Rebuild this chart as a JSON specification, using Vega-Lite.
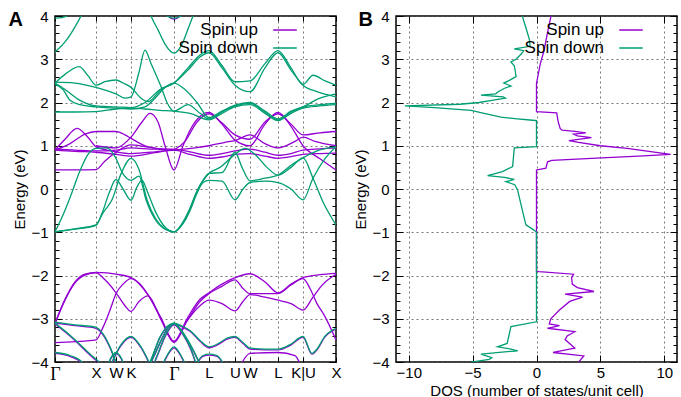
{
"$schema":"https://vega.github.io/schema/vega-lite/v6.json",
"background":"white",
"padding":{"left":7,"top":8,"right":2,"bottom":0},
"spacing":11,
"config":{"font":"Liberation Sans","view":{"stroke":"black","strokeWidth":1.5},
"axis":{"domain":false,"labelFont":"Liberation Sans","titleFont":"Liberation Sans","labelFontSize":15,"titleFontSize":15,"titleFontWeight":"normal","labelColor":"black","titleColor":"black","tickColor":"black","tickWidth":1,"gridColor":"#555","gridDash":[2,3],"gridWidth":0.8,"labelOverlap":false,"labelFlush":false}},
"datasets":{
"bands":[
{"s":"Spin up","b":"u1","k":0,"E":-3.1},{"s":"Spin up","b":"u1","k":10,"E":-2.55},{"s":"Spin up","b":"u1","k":20,"E":-2.15},{"s":"Spin up","b":"u1","k":30,"E":-1.97},{"s":"Spin up","b":"u1","k":41,"E":-1.93},{"s":"Spin up","b":"u1","k":52,"E":-1.94},{"s":"Spin up","b":"u1","k":61,"E":-1.97},{"s":"Spin up","b":"u1","k":76,"E":-2.05},{"s":"Spin up","b":"u1","k":93,"E":-2.45},{"s":"Spin up","b":"u1","k":106,"E":-3.0},{"s":"Spin up","b":"u1","k":119,"E":-3.53},{"s":"Spin up","b":"u1","k":132,"E":-3.0},{"s":"Spin up","b":"u1","k":145,"E":-2.55},{"s":"Spin up","b":"u1","k":154,"E":-2.4},{"s":"Spin up","b":"u1","k":167,"E":-2.2},{"s":"Spin up","b":"u1","k":180,"E":-2.05},{"s":"Spin up","b":"u1","k":195,"E":-1.96},{"s":"Spin up","b":"u1","k":210,"E":-2.15},{"s":"Spin up","b":"u1","k":223,"E":-2.4},{"s":"Spin up","b":"u1","k":236,"E":-2.2},{"s":"Spin up","b":"u1","k":248,"E":-2.05},{"s":"Spin up","b":"u1","k":265,"E":-1.98},{"s":"Spin up","b":"u1","k":281,"E":-1.95},
{"s":"Spin up","b":"u2","k":0,"E":-3.12},{"s":"Spin up","b":"u2","k":10,"E":-2.57},{"s":"Spin up","b":"u2","k":20,"E":-2.17},{"s":"Spin up","b":"u2","k":30,"E":-1.99},{"s":"Spin up","b":"u2","k":41,"E":-1.94},{"s":"Spin up","b":"u2","k":50,"E":-2.1},{"s":"Spin up","b":"u2","k":61,"E":-2.4},{"s":"Spin up","b":"u2","k":70,"E":-2.7},{"s":"Spin up","b":"u2","k":76,"E":-2.83},{"s":"Spin up","b":"u2","k":84,"E":-2.6},{"s":"Spin up","b":"u2","k":93,"E":-2.47},{"s":"Spin up","b":"u2","k":106,"E":-3.02},{"s":"Spin up","b":"u2","k":119,"E":-3.55},{"s":"Spin up","b":"u2","k":132,"E":-3.05},{"s":"Spin up","b":"u2","k":145,"E":-2.6},{"s":"Spin up","b":"u2","k":154,"E":-2.42},{"s":"Spin up","b":"u2","k":167,"E":-2.25},{"s":"Spin up","b":"u2","k":180,"E":-2.1},{"s":"Spin up","b":"u2","k":188,"E":-2.3},{"s":"Spin up","b":"u2","k":195,"E":-2.42},{"s":"Spin up","b":"u2","k":210,"E":-2.42},{"s":"Spin up","b":"u2","k":223,"E":-2.42},{"s":"Spin up","b":"u2","k":236,"E":-2.22},{"s":"Spin up","b":"u2","k":248,"E":-2.07},{"s":"Spin up","b":"u2","k":255,"E":-2.3},{"s":"Spin up","b":"u2","k":262,"E":-2.65},{"s":"Spin up","b":"u2","k":270,"E":-2.95},{"s":"Spin up","b":"u2","k":281,"E":-3.49},
{"s":"Spin up","b":"u3","k":0,"E":-3.55},{"s":"Spin up","b":"u3","k":20,"E":-3.53},{"s":"Spin up","b":"u3","k":41,"E":-3.49},{"s":"Spin up","b":"u3","k":48,"E":-3.2},{"s":"Spin up","b":"u3","k":55,"E":-2.8},{"s":"Spin up","b":"u3","k":61,"E":-2.42},{"s":"Spin up","b":"u3","k":68,"E":-2.2},{"s":"Spin up","b":"u3","k":76,"E":-2.07},{"s":"Spin up","b":"u3","k":93,"E":-2.44},{"s":"Spin up","b":"u3","k":106,"E":-2.98},{"s":"Spin up","b":"u3","k":119,"E":-3.52},{"s":"Spin up","b":"u3","k":132,"E":-3.05},{"s":"Spin up","b":"u3","k":145,"E":-2.7},{"s":"Spin up","b":"u3","k":154,"E":-2.57},{"s":"Spin up","b":"u3","k":167,"E":-2.65},{"s":"Spin up","b":"u3","k":180,"E":-2.82},{"s":"Spin up","b":"u3","k":188,"E":-2.6},{"s":"Spin up","b":"u3","k":195,"E":-2.44},{"s":"Spin up","b":"u3","k":210,"E":-2.5},{"s":"Spin up","b":"u3","k":223,"E":-2.57},{"s":"Spin up","b":"u3","k":236,"E":-2.65},{"s":"Spin up","b":"u3","k":248,"E":-2.8},{"s":"Spin up","b":"u3","k":258,"E":-2.5},{"s":"Spin up","b":"u3","k":268,"E":-2.2},{"s":"Spin up","b":"u3","k":281,"E":-1.97},
{"s":"Spin up","b":"d1","k":0,"E":-3.1},{"s":"Spin up","b":"d1","k":20,"E":-3.16},{"s":"Spin up","b":"d1","k":41,"E":-3.22},{"s":"Spin up","b":"d1","k":48,"E":-3.37},{"s":"Spin up","b":"d1","k":55,"E":-3.67},{"s":"Spin up","b":"d1","k":61,"E":-4.02},{"s":"Spin up","b":"d1","k":66,"E":-4.32},
{"s":"Spin up","b":"d2","k":0,"E":-3.12},{"s":"Spin up","b":"d2","k":15,"E":-3.4},{"s":"Spin up","b":"d2","k":38,"E":-3.9},{"s":"Spin up","b":"d2","k":45,"E":-4.04},{"s":"Spin up","b":"d2","k":52,"E":-4.27},
{"s":"Spin up","b":"d3","k":0,"E":-3.8},{"s":"Spin up","b":"d3","k":15,"E":-3.87},{"s":"Spin up","b":"d3","k":28,"E":-4.04},{"s":"Spin up","b":"d3","k":35,"E":-4.27},
{"s":"Spin up","b":"d4","k":56,"E":-4.07},{"s":"Spin up","b":"d4","k":66,"E":-3.62},{"s":"Spin up","b":"d4","k":76,"E":-3.43},{"s":"Spin up","b":"d4","k":86,"E":-3.67},{"s":"Spin up","b":"d4","k":95,"E":-4.07},
{"s":"Spin up","b":"d5","k":50,"E":-4.27},{"s":"Spin up","b":"d5","k":56,"E":-3.92},{"s":"Spin up","b":"d5","k":61,"E":-3.8},{"s":"Spin up","b":"d5","k":66,"E":-3.92},{"s":"Spin up","b":"d5","k":72,"E":-4.27},
{"s":"Spin up","b":"d6a","k":88,"E":-4.32},{"s":"Spin up","b":"d6a","k":95,"E":-4.02},{"s":"Spin up","b":"d6a","k":105,"E":-3.44},{"s":"Spin up","b":"d6a","k":112,"E":-3.2},{"s":"Spin up","b":"d6a","k":119,"E":-3.12},{"s":"Spin up","b":"d6a","k":127,"E":-3.19},{"s":"Spin up","b":"d6a","k":135,"E":-3.29},{"s":"Spin up","b":"d6a","k":145,"E":-3.52},{"s":"Spin up","b":"d6a","k":154,"E":-3.67},{"s":"Spin up","b":"d6a","k":165,"E":-3.57},{"s":"Spin up","b":"d6a","k":172,"E":-3.47},{"s":"Spin up","b":"d6a","k":180,"E":-3.43},{"s":"Spin up","b":"d6a","k":188,"E":-3.57},{"s":"Spin up","b":"d6a","k":195,"E":-3.7},{"s":"Spin up","b":"d6a","k":210,"E":-3.72},{"s":"Spin up","b":"d6a","k":223,"E":-3.72},{"s":"Spin up","b":"d6a","k":235,"E":-3.62},{"s":"Spin up","b":"d6a","k":248,"E":-3.43},{"s":"Spin up","b":"d6a","k":257,"E":-3.82},{"s":"Spin up","b":"d6a","k":262,"E":-3.72},{"s":"Spin up","b":"d6a","k":270,"E":-3.42},{"s":"Spin up","b":"d6a","k":281,"E":-3.24},
{"s":"Spin up","b":"d6b","k":92,"E":-4.22},{"s":"Spin up","b":"d6b","k":98,"E":-3.92},{"s":"Spin up","b":"d6b","k":106,"E":-3.52},{"s":"Spin up","b":"d6b","k":113,"E":-3.22},{"s":"Spin up","b":"d6b","k":119,"E":-3.12},{"s":"Spin up","b":"d6b","k":126,"E":-3.27},{"s":"Spin up","b":"d6b","k":133,"E":-3.52},{"s":"Spin up","b":"d6b","k":140,"E":-3.82},{"s":"Spin up","b":"d6b","k":146,"E":-4.12},
{"s":"Spin up","b":"d6c","k":96,"E":-4.22},{"s":"Spin up","b":"d6c","k":103,"E":-3.82},{"s":"Spin up","b":"d6c","k":110,"E":-3.42},{"s":"Spin up","b":"d6c","k":119,"E":-3.14},{"s":"Spin up","b":"d6c","k":128,"E":-3.37},{"s":"Spin up","b":"d6c","k":136,"E":-3.72},{"s":"Spin up","b":"d6c","k":142,"E":-4.12},
{"s":"Spin up","b":"d7","k":105,"E":-4.22},{"s":"Spin up","b":"d7","k":112,"E":-3.87},{"s":"Spin up","b":"d7","k":119,"E":-3.67},{"s":"Spin up","b":"d7","k":126,"E":-3.87},{"s":"Spin up","b":"d7","k":133,"E":-4.22},
{"s":"Spin up","b":"d9","k":140,"E":-4.12},{"s":"Spin up","b":"d9","k":148,"E":-3.87},{"s":"Spin up","b":"d9","k":154,"E":-3.84},{"s":"Spin up","b":"d9","k":162,"E":-3.87},{"s":"Spin up","b":"d9","k":170,"E":-4.12},
{"s":"Spin up","b":"d8","k":185,"E":-4.1},{"s":"Spin up","b":"d8","k":195,"E":-3.8},{"s":"Spin up","b":"d8","k":223,"E":-3.78},{"s":"Spin up","b":"d8","k":240,"E":-3.85},{"s":"Spin up","b":"d8","k":246,"E":-4.1},
{"s":"Spin up","b":"pa","k":0,"E":0.9},{"s":"Spin up","b":"pa","k":20,"E":0.87},{"s":"Spin up","b":"pa","k":41,"E":0.85},{"s":"Spin up","b":"pa","k":61,"E":0.8},{"s":"Spin up","b":"pa","k":76,"E":0.76},{"s":"Spin up","b":"pa","k":100,"E":0.84},{"s":"Spin up","b":"pa","k":119,"E":0.9},{"s":"Spin up","b":"pa","k":135,"E":0.8},{"s":"Spin up","b":"pa","k":154,"E":0.71},{"s":"Spin up","b":"pa","k":167,"E":0.74},{"s":"Spin up","b":"pa","k":180,"E":0.8},{"s":"Spin up","b":"pa","k":195,"E":0.82},{"s":"Spin up","b":"pa","k":210,"E":0.76},{"s":"Spin up","b":"pa","k":223,"E":0.71},{"s":"Spin up","b":"pa","k":236,"E":0.75},{"s":"Spin up","b":"pa","k":248,"E":0.8},{"s":"Spin up","b":"pa","k":265,"E":0.82},{"s":"Spin up","b":"pa","k":281,"E":0.83},
{"s":"Spin up","b":"pb","k":0,"E":0.92},{"s":"Spin up","b":"pb","k":20,"E":0.9},{"s":"Spin up","b":"pb","k":41,"E":0.88},{"s":"Spin up","b":"pb","k":61,"E":0.9},{"s":"Spin up","b":"pb","k":76,"E":0.95},{"s":"Spin up","b":"pb","k":100,"E":0.92},{"s":"Spin up","b":"pb","k":119,"E":0.92},{"s":"Spin up","b":"pb","k":135,"E":0.86},{"s":"Spin up","b":"pb","k":154,"E":0.78},{"s":"Spin up","b":"pb","k":167,"E":0.82},{"s":"Spin up","b":"pb","k":180,"E":0.88},{"s":"Spin up","b":"pb","k":195,"E":0.92},{"s":"Spin up","b":"pb","k":210,"E":0.85},{"s":"Spin up","b":"pb","k":223,"E":0.78},{"s":"Spin up","b":"pb","k":236,"E":0.82},{"s":"Spin up","b":"pb","k":248,"E":0.9},{"s":"Spin up","b":"pb","k":265,"E":0.93},{"s":"Spin up","b":"pb","k":281,"E":0.95},
{"s":"Spin up","b":"pc","k":0,"E":0.44},{"s":"Spin up","b":"pc","k":20,"E":0.44},{"s":"Spin up","b":"pc","k":41,"E":0.45},{"s":"Spin up","b":"pc","k":50,"E":0.65},{"s":"Spin up","b":"pc","k":61,"E":0.85},{"s":"Spin up","b":"pc","k":76,"E":1.02},{"s":"Spin up","b":"pc","k":90,"E":0.98},{"s":"Spin up","b":"pc","k":105,"E":0.93},{"s":"Spin up","b":"pc","k":119,"E":0.9},
{"s":"Spin up","b":"pd","k":0,"E":0.9},{"s":"Spin up","b":"pd","k":10,"E":1.15},{"s":"Spin up","b":"pd","k":22,"E":1.4},{"s":"Spin up","b":"pd","k":32,"E":1.22},{"s":"Spin up","b":"pd","k":41,"E":0.98},{"s":"Spin up","b":"pd","k":52,"E":0.9},{"s":"Spin up","b":"pd","k":61,"E":0.86},{"s":"Spin up","b":"pd","k":76,"E":0.82},{"s":"Spin up","b":"pd","k":100,"E":0.86},{"s":"Spin up","b":"pd","k":119,"E":0.91},
{"s":"Spin up","b":"pe","k":0,"E":0.9},{"s":"Spin up","b":"pe","k":15,"E":1.05},{"s":"Spin up","b":"pe","k":30,"E":1.27},{"s":"Spin up","b":"pe","k":41,"E":1.33},{"s":"Spin up","b":"pe","k":61,"E":1.33},{"s":"Spin up","b":"pe","k":70,"E":1.25},{"s":"Spin up","b":"pe","k":76,"E":1.17},{"s":"Spin up","b":"pe","k":90,"E":1.0},{"s":"Spin up","b":"pe","k":105,"E":0.92},{"s":"Spin up","b":"pe","k":119,"E":0.9},
{"s":"Spin up","b":"pf","k":41,"E":1.0},{"s":"Spin up","b":"pf","k":61,"E":0.95},{"s":"Spin up","b":"pf","k":76,"E":1.2},{"s":"Spin up","b":"pf","k":87,"E":1.55},{"s":"Spin up","b":"pf","k":95,"E":1.75},{"s":"Spin up","b":"pf","k":103,"E":1.55},{"s":"Spin up","b":"pf","k":110,"E":1.0},{"s":"Spin up","b":"pf","k":119,"E":0.44},{"s":"Spin up","b":"pf","k":128,"E":1.0},{"s":"Spin up","b":"pf","k":140,"E":1.55},{"s":"Spin up","b":"pf","k":154,"E":1.77},{"s":"Spin up","b":"pf","k":167,"E":1.5},{"s":"Spin up","b":"pf","k":180,"E":1.13},{"s":"Spin up","b":"pf","k":195,"E":1.0},{"s":"Spin up","b":"pf","k":210,"E":1.5},{"s":"Spin up","b":"pf","k":223,"E":1.77},{"s":"Spin up","b":"pf","k":236,"E":1.45},{"s":"Spin up","b":"pf","k":248,"E":1.0},{"s":"Spin up","b":"pf","k":265,"E":0.7},{"s":"Spin up","b":"pf","k":281,"E":0.44},
{"s":"Spin up","b":"pg","k":119,"E":0.9},{"s":"Spin up","b":"pg","k":130,"E":1.1},{"s":"Spin up","b":"pg","k":142,"E":1.55},{"s":"Spin up","b":"pg","k":154,"E":1.74},{"s":"Spin up","b":"pg","k":166,"E":1.55},{"s":"Spin up","b":"pg","k":180,"E":1.25},{"s":"Spin up","b":"pg","k":195,"E":1.15},{"s":"Spin up","b":"pg","k":210,"E":1.55},{"s":"Spin up","b":"pg","k":223,"E":1.74},{"s":"Spin up","b":"pg","k":236,"E":1.5},{"s":"Spin up","b":"pg","k":248,"E":1.25},{"s":"Spin up","b":"pg","k":265,"E":1.3},{"s":"Spin up","b":"pg","k":281,"E":1.33},
{"s":"Spin up","b":"ph","k":119,"E":0.9},{"s":"Spin up","b":"ph","k":140,"E":0.95},{"s":"Spin up","b":"ph","k":154,"E":1.0},{"s":"Spin up","b":"ph","k":170,"E":1.08},{"s":"Spin up","b":"ph","k":180,"E":1.12},{"s":"Spin up","b":"ph","k":195,"E":1.25},{"s":"Spin up","b":"ph","k":210,"E":1.05},{"s":"Spin up","b":"ph","k":223,"E":0.95},{"s":"Spin up","b":"ph","k":240,"E":1.1},{"s":"Spin up","b":"ph","k":248,"E":1.2},{"s":"Spin up","b":"ph","k":260,"E":1.1},{"s":"Spin up","b":"ph","k":281,"E":1.0},
{"s":"Spin up","b":"pt","k":108,"E":4.2},{"s":"Spin up","b":"pt","k":113,"E":4.0},{"s":"Spin up","b":"pt","k":119,"E":3.93},{"s":"Spin up","b":"pt","k":125,"E":4.0},{"s":"Spin up","b":"pt","k":130,"E":4.2},
{"s":"Spin down","b":"d1","k":0,"E":-3.08},{"s":"Spin down","b":"d1","k":20,"E":-3.14},{"s":"Spin down","b":"d1","k":41,"E":-3.2},{"s":"Spin down","b":"d1","k":48,"E":-3.35},{"s":"Spin down","b":"d1","k":55,"E":-3.65},{"s":"Spin down","b":"d1","k":61,"E":-4.0},{"s":"Spin down","b":"d1","k":66,"E":-4.3},
{"s":"Spin down","b":"d2","k":0,"E":-3.1},{"s":"Spin down","b":"d2","k":15,"E":-3.38},{"s":"Spin down","b":"d2","k":38,"E":-3.88},{"s":"Spin down","b":"d2","k":45,"E":-4.02},{"s":"Spin down","b":"d2","k":52,"E":-4.25},
{"s":"Spin down","b":"d3","k":0,"E":-3.78},{"s":"Spin down","b":"d3","k":15,"E":-3.85},{"s":"Spin down","b":"d3","k":28,"E":-4.02},{"s":"Spin down","b":"d3","k":35,"E":-4.25},
{"s":"Spin down","b":"d4","k":56,"E":-4.05},{"s":"Spin down","b":"d4","k":66,"E":-3.6},{"s":"Spin down","b":"d4","k":76,"E":-3.41},{"s":"Spin down","b":"d4","k":86,"E":-3.65},{"s":"Spin down","b":"d4","k":95,"E":-4.05},
{"s":"Spin down","b":"d5","k":50,"E":-4.25},{"s":"Spin down","b":"d5","k":56,"E":-3.9},{"s":"Spin down","b":"d5","k":61,"E":-3.78},{"s":"Spin down","b":"d5","k":66,"E":-3.9},{"s":"Spin down","b":"d5","k":72,"E":-4.25},
{"s":"Spin down","b":"d6a","k":88,"E":-4.3},{"s":"Spin down","b":"d6a","k":95,"E":-4.0},{"s":"Spin down","b":"d6a","k":105,"E":-3.42},{"s":"Spin down","b":"d6a","k":112,"E":-3.18},{"s":"Spin down","b":"d6a","k":119,"E":-3.1},{"s":"Spin down","b":"d6a","k":127,"E":-3.17},{"s":"Spin down","b":"d6a","k":135,"E":-3.27},{"s":"Spin down","b":"d6a","k":145,"E":-3.5},{"s":"Spin down","b":"d6a","k":154,"E":-3.65},{"s":"Spin down","b":"d6a","k":165,"E":-3.55},{"s":"Spin down","b":"d6a","k":172,"E":-3.45},{"s":"Spin down","b":"d6a","k":180,"E":-3.41},{"s":"Spin down","b":"d6a","k":188,"E":-3.55},{"s":"Spin down","b":"d6a","k":195,"E":-3.68},{"s":"Spin down","b":"d6a","k":210,"E":-3.7},{"s":"Spin down","b":"d6a","k":223,"E":-3.7},{"s":"Spin down","b":"d6a","k":235,"E":-3.6},{"s":"Spin down","b":"d6a","k":248,"E":-3.41},{"s":"Spin down","b":"d6a","k":257,"E":-3.8},{"s":"Spin down","b":"d6a","k":262,"E":-3.7},{"s":"Spin down","b":"d6a","k":270,"E":-3.4},{"s":"Spin down","b":"d6a","k":281,"E":-3.22},
{"s":"Spin down","b":"d6b","k":92,"E":-4.2},{"s":"Spin down","b":"d6b","k":98,"E":-3.9},{"s":"Spin down","b":"d6b","k":106,"E":-3.5},{"s":"Spin down","b":"d6b","k":113,"E":-3.2},{"s":"Spin down","b":"d6b","k":119,"E":-3.1},{"s":"Spin down","b":"d6b","k":126,"E":-3.25},{"s":"Spin down","b":"d6b","k":133,"E":-3.5},{"s":"Spin down","b":"d6b","k":140,"E":-3.8},{"s":"Spin down","b":"d6b","k":146,"E":-4.1},
{"s":"Spin down","b":"d6c","k":96,"E":-4.2},{"s":"Spin down","b":"d6c","k":103,"E":-3.8},{"s":"Spin down","b":"d6c","k":110,"E":-3.4},{"s":"Spin down","b":"d6c","k":119,"E":-3.12},{"s":"Spin down","b":"d6c","k":128,"E":-3.35},{"s":"Spin down","b":"d6c","k":136,"E":-3.7},{"s":"Spin down","b":"d6c","k":142,"E":-4.1},
{"s":"Spin down","b":"d7","k":105,"E":-4.2},{"s":"Spin down","b":"d7","k":112,"E":-3.85},{"s":"Spin down","b":"d7","k":119,"E":-3.65},{"s":"Spin down","b":"d7","k":126,"E":-3.85},{"s":"Spin down","b":"d7","k":133,"E":-4.2},
{"s":"Spin down","b":"d9","k":140,"E":-4.1},{"s":"Spin down","b":"d9","k":148,"E":-3.85},{"s":"Spin down","b":"d9","k":154,"E":-3.82},{"s":"Spin down","b":"d9","k":162,"E":-3.85},{"s":"Spin down","b":"d9","k":170,"E":-4.1},
{"s":"Spin down","b":"gA","k":0,"E":-0.99},{"s":"Spin down","b":"gA","k":20,"E":-0.93},{"s":"Spin down","b":"gA","k":41,"E":-0.84},{"s":"Spin down","b":"gA","k":48,"E":-0.5},{"s":"Spin down","b":"gA","k":54,"E":-0.1},{"s":"Spin down","b":"gA","k":61,"E":0.22},{"s":"Spin down","b":"gA","k":68,"E":0.0},{"s":"Spin down","b":"gA","k":76,"E":-0.26},{"s":"Spin down","b":"gA","k":82,"E":0.05},{"s":"Spin down","b":"gA","k":87,"E":0.2},{"s":"Spin down","b":"gA","k":93,"E":-0.1},{"s":"Spin down","b":"gA","k":100,"E":-0.5},{"s":"Spin down","b":"gA","k":110,"E":-0.88},{"s":"Spin down","b":"gA","k":119,"E":-0.99},{"s":"Spin down","b":"gA","k":128,"E":-0.8},{"s":"Spin down","b":"gA","k":135,"E":-0.5},{"s":"Spin down","b":"gA","k":142,"E":-0.1},{"s":"Spin down","b":"gA","k":148,"E":0.15},{"s":"Spin down","b":"gA","k":154,"E":0.2},{"s":"Spin down","b":"gA","k":167,"E":0.18},{"s":"Spin down","b":"gA","k":180,"E":-0.25},{"s":"Spin down","b":"gA","k":188,"E":0.0},{"s":"Spin down","b":"gA","k":195,"E":0.15},{"s":"Spin down","b":"gA","k":210,"E":0.18},{"s":"Spin down","b":"gA","k":223,"E":0.15},{"s":"Spin down","b":"gA","k":236,"E":0.0},{"s":"Spin down","b":"gA","k":248,"E":-0.25},{"s":"Spin down","b":"gA","k":258,"E":0.25},{"s":"Spin down","b":"gA","k":270,"E":0.7},{"s":"Spin down","b":"gA","k":281,"E":0.98},
{"s":"Spin down","b":"gB","k":0,"E":-0.99},{"s":"Spin down","b":"gB","k":8,"E":-0.6},{"s":"Spin down","b":"gB","k":15,"E":-0.2},{"s":"Spin down","b":"gB","k":25,"E":0.42},{"s":"Spin down","b":"gB","k":33,"E":0.8},{"s":"Spin down","b":"gB","k":41,"E":0.94},{"s":"Spin down","b":"gB","k":52,"E":0.95},{"s":"Spin down","b":"gB","k":60,"E":0.75},{"s":"Spin down","b":"gB","k":68,"E":0.35},{"s":"Spin down","b":"gB","k":76,"E":0.2},{"s":"Spin down","b":"gB","k":84,"E":0.3},{"s":"Spin down","b":"gB","k":91,"E":-0.25},{"s":"Spin down","b":"gB","k":100,"E":-0.7},{"s":"Spin down","b":"gB","k":110,"E":-0.93},{"s":"Spin down","b":"gB","k":119,"E":-0.99},{"s":"Spin down","b":"gB","k":128,"E":-0.78},{"s":"Spin down","b":"gB","k":135,"E":-0.45},{"s":"Spin down","b":"gB","k":143,"E":0.0},{"s":"Spin down","b":"gB","k":154,"E":0.36},{"s":"Spin down","b":"gB","k":165,"E":0.5},{"s":"Spin down","b":"gB","k":180,"E":0.8},{"s":"Spin down","b":"gB","k":190,"E":0.94},{"s":"Spin down","b":"gB","k":200,"E":0.8},{"s":"Spin down","b":"gB","k":212,"E":0.5},{"s":"Spin down","b":"gB","k":223,"E":0.32},{"s":"Spin down","b":"gB","k":236,"E":0.5},{"s":"Spin down","b":"gB","k":248,"E":0.72},{"s":"Spin down","b":"gB","k":258,"E":0.25},{"s":"Spin down","b":"gB","k":268,"E":-0.3},{"s":"Spin down","b":"gB","k":281,"E":-0.83},
{"s":"Spin down","b":"gC","k":0,"E":-0.99},{"s":"Spin down","b":"gC","k":20,"E":-0.92},{"s":"Spin down","b":"gC","k":41,"E":-0.83},{"s":"Spin down","b":"gC","k":48,"E":-0.55},{"s":"Spin down","b":"gC","k":57,"E":-0.25},{"s":"Spin down","b":"gC","k":66,"E":0.35},{"s":"Spin down","b":"gC","k":76,"E":0.71},{"s":"Spin down","b":"gC","k":84,"E":0.45},{"s":"Spin down","b":"gC","k":92,"E":-0.25},{"s":"Spin down","b":"gC","k":101,"E":-0.7},{"s":"Spin down","b":"gC","k":110,"E":-0.92},{"s":"Spin down","b":"gC","k":119,"E":-0.99},{"s":"Spin down","b":"gC","k":127,"E":-0.8},{"s":"Spin down","b":"gC","k":134,"E":-0.5},{"s":"Spin down","b":"gC","k":141,"E":-0.1},{"s":"Spin down","b":"gC","k":148,"E":0.2},{"s":"Spin down","b":"gC","k":154,"E":0.36},{"s":"Spin down","b":"gC","k":167,"E":0.38},{"s":"Spin down","b":"gC","k":180,"E":0.85},{"s":"Spin down","b":"gC","k":187,"E":0.5},{"s":"Spin down","b":"gC","k":195,"E":0.19},{"s":"Spin down","b":"gC","k":210,"E":0.25},{"s":"Spin down","b":"gC","k":223,"E":0.32},{"s":"Spin down","b":"gC","k":236,"E":0.55},{"s":"Spin down","b":"gC","k":248,"E":0.72},{"s":"Spin down","b":"gC","k":262,"E":0.88},{"s":"Spin down","b":"gC","k":281,"E":0.98},
{"s":"Spin down","b":"g1","k":0,"E":2.45},{"s":"Spin down","b":"g1","k":10,"E":2.65},{"s":"Spin down","b":"g1","k":24,"E":2.83},{"s":"Spin down","b":"g1","k":33,"E":2.62},{"s":"Spin down","b":"g1","k":41,"E":2.4},{"s":"Spin down","b":"g1","k":50,"E":2.48},{"s":"Spin down","b":"g1","k":61,"E":2.52},{"s":"Spin down","b":"g1","k":68,"E":2.45},{"s":"Spin down","b":"g1","k":76,"E":2.35},{"s":"Spin down","b":"g1","k":86,"E":2.1},{"s":"Spin down","b":"g1","k":93,"E":2.02},{"s":"Spin down","b":"g1","k":106,"E":2.3},{"s":"Spin down","b":"g1","k":119,"E":2.45},{"s":"Spin down","b":"g1","k":133,"E":2.8},{"s":"Spin down","b":"g1","k":145,"E":3.1},{"s":"Spin down","b":"g1","k":154,"E":3.2},{"s":"Spin down","b":"g1","k":167,"E":2.85},{"s":"Spin down","b":"g1","k":180,"E":2.48},{"s":"Spin down","b":"g1","k":195,"E":2.5},{"s":"Spin down","b":"g1","k":210,"E":2.9},{"s":"Spin down","b":"g1","k":223,"E":3.2},{"s":"Spin down","b":"g1","k":236,"E":2.8},{"s":"Spin down","b":"g1","k":248,"E":2.42},{"s":"Spin down","b":"g1","k":258,"E":2.63},{"s":"Spin down","b":"g1","k":270,"E":2.5},{"s":"Spin down","b":"g1","k":281,"E":2.4},
{"s":"Spin down","b":"g2","k":0,"E":2.45},{"s":"Spin down","b":"g2","k":10,"E":2.3},{"s":"Spin down","b":"g2","k":25,"E":2.05},{"s":"Spin down","b":"g2","k":41,"E":1.92},{"s":"Spin down","b":"g2","k":61,"E":1.9},{"s":"Spin down","b":"g2","k":76,"E":1.88},{"s":"Spin down","b":"g2","k":90,"E":2.0},{"s":"Spin down","b":"g2","k":105,"E":2.3},{"s":"Spin down","b":"g2","k":119,"E":2.45},{"s":"Spin down","b":"g2","k":133,"E":2.75},{"s":"Spin down","b":"g2","k":145,"E":3.05},{"s":"Spin down","b":"g2","k":154,"E":3.15},{"s":"Spin down","b":"g2","k":167,"E":2.8},{"s":"Spin down","b":"g2","k":180,"E":2.4},{"s":"Spin down","b":"g2","k":195,"E":2.25},{"s":"Spin down","b":"g2","k":210,"E":2.8},{"s":"Spin down","b":"g2","k":223,"E":3.15},{"s":"Spin down","b":"g2","k":236,"E":2.75},{"s":"Spin down","b":"g2","k":248,"E":2.4},{"s":"Spin down","b":"g2","k":262,"E":2.25},{"s":"Spin down","b":"g2","k":281,"E":2.13},
{"s":"Spin down","b":"g3","k":0,"E":2.42},{"s":"Spin down","b":"g3","k":8,"E":2.3},{"s":"Spin down","b":"g3","k":15,"E":2.05},{"s":"Spin down","b":"g3","k":25,"E":1.95},{"s":"Spin down","b":"g3","k":41,"E":1.9},{"s":"Spin down","b":"g3","k":61,"E":1.87},{"s":"Spin down","b":"g3","k":76,"E":1.85},{"s":"Spin down","b":"g3","k":90,"E":1.9},{"s":"Spin down","b":"g3","k":100,"E":2.1},{"s":"Spin down","b":"g3","k":110,"E":2.35},{"s":"Spin down","b":"g3","k":119,"E":2.45},{"s":"Spin down","b":"g3","k":130,"E":2.3},{"s":"Spin down","b":"g3","k":142,"E":2.0},{"s":"Spin down","b":"g3","k":154,"E":1.65},{"s":"Spin down","b":"g3","k":167,"E":1.8},{"s":"Spin down","b":"g3","k":180,"E":1.94},{"s":"Spin down","b":"g3","k":195,"E":2.0},{"s":"Spin down","b":"g3","k":210,"E":1.8},{"s":"Spin down","b":"g3","k":223,"E":1.62},{"s":"Spin down","b":"g3","k":236,"E":1.8},{"s":"Spin down","b":"g3","k":248,"E":1.9},{"s":"Spin down","b":"g3","k":265,"E":1.95},{"s":"Spin down","b":"g3","k":281,"E":1.98},
{"s":"Spin down","b":"g4","k":0,"E":1.78},{"s":"Spin down","b":"g4","k":20,"E":1.78},{"s":"Spin down","b":"g4","k":41,"E":1.79},{"s":"Spin down","b":"g4","k":61,"E":1.85},{"s":"Spin down","b":"g4","k":76,"E":1.87},{"s":"Spin down","b":"g4","k":90,"E":1.85},{"s":"Spin down","b":"g4","k":105,"E":1.82},{"s":"Spin down","b":"g4","k":119,"E":1.8},{"s":"Spin down","b":"g4","k":135,"E":1.75},{"s":"Spin down","b":"g4","k":154,"E":1.6},{"s":"Spin down","b":"g4","k":167,"E":1.75},{"s":"Spin down","b":"g4","k":180,"E":1.9},{"s":"Spin down","b":"g4","k":195,"E":1.95},{"s":"Spin down","b":"g4","k":210,"E":1.75},{"s":"Spin down","b":"g4","k":223,"E":1.58},{"s":"Spin down","b":"g4","k":236,"E":1.75},{"s":"Spin down","b":"g4","k":248,"E":1.87},{"s":"Spin down","b":"g4","k":265,"E":1.92},{"s":"Spin down","b":"g4","k":281,"E":1.95},
{"s":"Spin down","b":"g5","k":0,"E":2.47},{"s":"Spin down","b":"g5","k":20,"E":2.45},{"s":"Spin down","b":"g5","k":41,"E":2.35},{"s":"Spin down","b":"g5","k":55,"E":2.25},{"s":"Spin down","b":"g5","k":61,"E":2.2},{"s":"Spin down","b":"g5","k":70,"E":2.1},{"s":"Spin down","b":"g5","k":76,"E":2.13},{"s":"Spin down","b":"g5","k":84,"E":2.7},{"s":"Spin down","b":"g5","k":90,"E":3.21},{"s":"Spin down","b":"g5","k":96,"E":2.9},{"s":"Spin down","b":"g5","k":106,"E":2.37},{"s":"Spin down","b":"g5","k":112,"E":2.0},{"s":"Spin down","b":"g5","k":119,"E":1.8},{"s":"Spin down","b":"g5","k":133,"E":1.95},{"s":"Spin down","b":"g5","k":145,"E":1.75},{"s":"Spin down","b":"g5","k":154,"E":1.62},{"s":"Spin down","b":"g5","k":167,"E":1.78},{"s":"Spin down","b":"g5","k":180,"E":1.92},{"s":"Spin down","b":"g5","k":195,"E":1.98},{"s":"Spin down","b":"g5","k":210,"E":1.78},{"s":"Spin down","b":"g5","k":223,"E":1.6},{"s":"Spin down","b":"g5","k":236,"E":1.78},{"s":"Spin down","b":"g5","k":248,"E":1.9},{"s":"Spin down","b":"g5","k":265,"E":2.1},{"s":"Spin down","b":"g5","k":281,"E":2.2},
{"s":"Spin down","b":"g6","k":0,"E":3.17},{"s":"Spin down","b":"g6","k":10,"E":3.4},{"s":"Spin down","b":"g6","k":20,"E":3.75},{"s":"Spin down","b":"g6","k":27,"E":4.05},{"s":"Spin down","b":"g6","k":33,"E":4.4},
{"s":"Spin down","b":"g7","k":0,"E":3.95},{"s":"Spin down","b":"g7","k":8,"E":3.97},{"s":"Spin down","b":"g7","k":16,"E":4.05},{"s":"Spin down","b":"g7","k":22,"E":4.3},
{"s":"Spin down","b":"g8","k":90,"E":4.4},{"s":"Spin down","b":"g8","k":97,"E":3.95},{"s":"Spin down","b":"g8","k":103,"E":3.68},{"s":"Spin down","b":"g8","k":110,"E":3.35},{"s":"Spin down","b":"g8","k":119,"E":3.14},{"s":"Spin down","b":"g8","k":127,"E":3.35},{"s":"Spin down","b":"g8","k":133,"E":3.7},{"s":"Spin down","b":"g8","k":138,"E":4.0},{"s":"Spin down","b":"g8","k":145,"E":4.4},
{"s":"Spin down","b":"g9","k":105,"E":4.2},{"s":"Spin down","b":"g9","k":112,"E":4.0},{"s":"Spin down","b":"g9","k":119,"E":3.95},{"s":"Spin down","b":"g9","k":126,"E":4.0},{"s":"Spin down","b":"g9","k":133,"E":4.2}
],
"dos":[
{"s":"Spin up","E":4.1,"v":1.2},{"s":"Spin up","E":3.98,"v":1.12},{"s":"Spin up","E":3.6,"v":0.85},{"s":"Spin up","E":3.21,"v":0.6},{"s":"Spin up","E":2.9,"v":0.3},{"s":"Spin up","E":2.6,"v":0.1},{"s":"Spin up","E":2.48,"v":0.03},{"s":"Spin up","E":2.45,"v":0},{"s":"Spin up","E":1.79,"v":0},{"s":"Spin up","E":1.76,"v":1.58},{"s":"Spin up","E":1.55,"v":1.7},{"s":"Spin up","E":1.4,"v":1.85},{"s":"Spin up","E":1.36,"v":2.0},{"s":"Spin up","E":1.33,"v":3.0},{"s":"Spin up","E":1.3,"v":3.86},{"s":"Spin up","E":1.27,"v":2.9},{"s":"Spin up","E":1.23,"v":3.2},{"s":"Spin up","E":1.19,"v":4.3},{"s":"Spin up","E":1.12,"v":2.54},{"s":"Spin up","E":1.08,"v":3.3},{"s":"Spin up","E":1.0,"v":5.0},{"s":"Spin up","E":0.94,"v":7.1},{"s":"Spin up","E":0.8,"v":10.5},{"s":"Spin up","E":0.76,"v":8.0},{"s":"Spin up","E":0.72,"v":5.1},{"s":"Spin up","E":0.66,"v":1.2},{"s":"Spin up","E":0.63,"v":0.86},{"s":"Spin up","E":0.48,"v":0.74},{"s":"Spin up","E":0.44,"v":0},{"s":"Spin up","E":-1.9,"v":0},{"s":"Spin up","E":-1.91,"v":0.2},{"s":"Spin up","E":-1.97,"v":2.9},{"s":"Spin up","E":-2.05,"v":2.75},{"s":"Spin up","E":-2.2,"v":2.8},{"s":"Spin up","E":-2.28,"v":3.2},{"s":"Spin up","E":-2.37,"v":4.5},{"s":"Spin up","E":-2.43,"v":2.24},{"s":"Spin up","E":-2.5,"v":3.6},{"s":"Spin up","E":-2.6,"v":2.6},{"s":"Spin up","E":-2.8,"v":1.8},{"s":"Spin up","E":-3.0,"v":1.12},{"s":"Spin up","E":-3.12,"v":1.0},{"s":"Spin up","E":-3.16,"v":1.8},{"s":"Spin up","E":-3.22,"v":0.86},{"s":"Spin up","E":-3.3,"v":3.0},{"s":"Spin up","E":-3.4,"v":2.4},{"s":"Spin up","E":-3.48,"v":2.24},{"s":"Spin up","E":-3.6,"v":2.7},{"s":"Spin up","E":-3.68,"v":3.0},{"s":"Spin up","E":-3.78,"v":1.3},{"s":"Spin up","E":-3.86,"v":3.7},{"s":"Spin up","E":-4.0,"v":3.3},{"s":"Spin up","E":-4.1,"v":3.2},
{"s":"Spin down","E":4.1,"v":-1.15},{"s":"Spin down","E":3.98,"v":-1.09},{"s":"Spin down","E":3.7,"v":-0.8},{"s":"Spin down","E":3.45,"v":-0.55},{"s":"Spin down","E":3.3,"v":-0.5},{"s":"Spin down","E":3.24,"v":-1.74},{"s":"Spin down","E":3.2,"v":-1.0},{"s":"Spin down","E":3.12,"v":-1.2},{"s":"Spin down","E":3.0,"v":-1.6},{"s":"Spin down","E":2.94,"v":-2.0},{"s":"Spin down","E":2.85,"v":-1.74},{"s":"Spin down","E":2.7,"v":-1.65},{"s":"Spin down","E":2.6,"v":-1.6},{"s":"Spin down","E":2.5,"v":-2.2},{"s":"Spin down","E":2.45,"v":-2.56},{"s":"Spin down","E":2.38,"v":-2.0},{"s":"Spin down","E":2.33,"v":-2.5},{"s":"Spin down","E":2.25,"v":-3.0},{"s":"Spin down","E":2.2,"v":-3.2},{"s":"Spin down","E":2.17,"v":-4.35},{"s":"Spin down","E":2.13,"v":-2.6},{"s":"Spin down","E":2.1,"v":-2.43},{"s":"Spin down","E":2.05,"v":-3.5},{"s":"Spin down","E":2.0,"v":-4.5},{"s":"Spin down","E":1.96,"v":-6.0},{"s":"Spin down","E":1.92,"v":-10.3},{"s":"Spin down","E":1.88,"v":-8.0},{"s":"Spin down","E":1.82,"v":-5.13},{"s":"Spin down","E":1.75,"v":-4.1},{"s":"Spin down","E":1.66,"v":-2.78},{"s":"Spin down","E":1.62,"v":-1.5},{"s":"Spin down","E":1.59,"v":-0.3},{"s":"Spin down","E":1.58,"v":0},{"s":"Spin down","E":0.98,"v":0},{"s":"Spin down","E":0.95,"v":-1.74},{"s":"Spin down","E":0.75,"v":-1.8},{"s":"Spin down","E":0.52,"v":-1.87},{"s":"Spin down","E":0.4,"v":-2.66},{"s":"Spin down","E":0.31,"v":-3.83},{"s":"Spin down","E":0.27,"v":-2.5},{"s":"Spin down","E":0.22,"v":-1.74},{"s":"Spin down","E":0.17,"v":-2.4},{"s":"Spin down","E":0.1,"v":-1.7},{"s":"Spin down","E":-0.02,"v":-1.48},{"s":"Spin down","E":-0.25,"v":-1.3},{"s":"Spin down","E":-0.5,"v":-1.1},{"s":"Spin down","E":-0.83,"v":-0.83},{"s":"Spin down","E":-0.95,"v":-0.2},{"s":"Spin down","E":-1.0,"v":0},{"s":"Spin down","E":-3.07,"v":0},{"s":"Spin down","E":-3.18,"v":-2.0},{"s":"Spin down","E":-3.57,"v":-2.3},{"s":"Spin down","E":-3.65,"v":-3.05},{"s":"Spin down","E":-3.7,"v":-2.0},{"s":"Spin down","E":-3.74,"v":-1.48},{"s":"Spin down","E":-3.82,"v":-4.35},{"s":"Spin down","E":-3.9,"v":-3.5},{"s":"Spin down","E":-3.94,"v":-3.7},{"s":"Spin down","E":-4.0,"v":-5.1},{"s":"Spin down","E":-4.1,"v":-5.3}
]},
"resolve":{"scale":{"color":"independent"},"legend":{"color":"independent"}},
"hconcat":[
{"width":281,"height":346,
"data":{"name":"bands"},
"resolve":{"axis":{"x":"independent","y":"independent"}},
"layer":[
{"transform":[{"filter":"datum.s=='Spin up'"}],
"mark":{"type":"line","clip":true,"strokeWidth":1.3,"interpolate":"monotone"},
"encoding":{
"x":{"field":"k","type":"quantitative","scale":{"domain":[0,281],"nice":false,"zero":false},
"axis":{"orient":"bottom","title":null,"values":[0,41,61,76,119,154,180,195,223,248,281],"grid":true,"tickSize":-5,"labelPadding":8,"labelFlush":false,
"labelExpr":"['Γ','X','W','K','Γ','L','U','W','L','K|U','X'][indexof([0,41,61,76,119,154,180,195,223,248,281],datum.value)]",
"labelFont":{"condition":{"test":"datum.value==0||datum.value==119","value":"Liberation Serif"},"value":"Liberation Sans"},
"labelFontSize":{"condition":{"test":"datum.value==0||datum.value==119","value":18},"value":15}}},
"y":{"field":"E","type":"quantitative","scale":{"domain":[-4,4],"nice":false,"zero":false},
"axis":{"orient":"left","title":"Energy (eV)","titlePadding":3,"labelOverlap":false,"values":[-4,-3.8,-3.6,-3.4,-3.2,-3,-2.8,-2.6,-2.4,-2.2,-2,-1.8,-1.6,-1.4,-1.2,-1,-0.8,-0.6,-0.4,-0.2,0,0.2,0.4,0.6,0.8,1,1.2,1.4,1.6,1.8,2,2.2,2.4,2.6,2.8,3,3.2,3.4,3.6,3.8,4],
"labelExpr":"abs(datum.value-round(datum.value))<0.01 ? format(round(datum.value),'d') : ''","labelPadding":14,
"grid":true,"gridOpacity":{"condition":{"test":"abs(datum.value-round(datum.value))<0.01","value":1},"value":0},
"tickSize":{"condition":{"test":"abs(datum.value-round(datum.value))<0.01","value":-7},"value":-4}}},
"color":{"field":"s","type":"nominal","scale":{"domain":["Spin up","Spin down"],"range":["#9400D3","#009E73"]},
"legend":{"orient":"none","legendX":221,"legendY":5,"title":null,"symbolType":"M-1.47,0H1.47","symbolSize":256,"symbolStrokeWidth":1.5,"labelAlign":"right","labelOffset":-36,"labelFontSize":17,"labelFont":"Liberation Sans","labelColor":"black","rowPadding":1,"padding":0,"labelLimit":0}},
"detail":{"field":"b","type":"nominal"}}},
{"transform":[{"filter":"datum.s=='Spin down'"}],
"mark":{"type":"line","clip":true,"strokeWidth":1.3,"interpolate":"monotone"},
"encoding":{
"x":{"field":"k","type":"quantitative","axis":{"orient":"top","title":"A","titleAngle":0,"titleX":-47,"titleY":9,"titleAlign":"left","titleBaseline":"alphabetic","titleFontSize":20,"titleFontWeight":"bold","values":[0,41,61,76,119,154,180,195,223,248,281],"labels":false,"grid":false,"tickSize":-5}},
"y":{"field":"E","type":"quantitative","axis":{"orient":"right","title":null,"labels":false,"grid":false,"values":[-4,-3.8,-3.6,-3.4,-3.2,-3,-2.8,-2.6,-2.4,-2.2,-2,-1.8,-1.6,-1.4,-1.2,-1,-0.8,-0.6,-0.4,-0.2,0,0.2,0.4,0.6,0.8,1,1.2,1.4,1.6,1.8,2,2.2,2.4,2.6,2.8,3,3.2,3.4,3.6,3.8,4],
"tickSize":{"condition":{"test":"abs(datum.value-round(datum.value))<0.01","value":-7},"value":-4}}},
"color":{"field":"s","type":"nominal"},
"detail":{"field":"b","type":"nominal"}}}
]},
{"width":281,"height":346,
"data":{"name":"dos"},
"resolve":{"axis":{"x":"independent","y":"independent"}},
"layer":[
{"transform":[{"filter":"datum.s=='Spin up'"}],
"mark":{"type":"line","clip":true,"strokeWidth":1.3},
"encoding":{
"x":{"field":"v","type":"quantitative","scale":{"domain":[-11,11],"nice":false,"zero":false},
"axis":{"orient":"bottom","title":"DOS (number of states/unit cell)","titlePadding":3,"values":[-10,-5,0,5,10],"grid":true,"tickSize":-7,"labelPadding":10,"labelFlush":false}},
"y":{"field":"E","type":"quantitative","scale":{"domain":[-4,4],"nice":false,"zero":false},
"axis":{"orient":"left","title":"Energy (eV)","titlePadding":3,"labelOverlap":false,"values":[-4,-3.8,-3.6,-3.4,-3.2,-3,-2.8,-2.6,-2.4,-2.2,-2,-1.8,-1.6,-1.4,-1.2,-1,-0.8,-0.6,-0.4,-0.2,0,0.2,0.4,0.6,0.8,1,1.2,1.4,1.6,1.8,2,2.2,2.4,2.6,2.8,3,3.2,3.4,3.6,3.8,4],
"labelExpr":"abs(datum.value-round(datum.value))<0.01 ? format(round(datum.value),'d') : ''","labelPadding":14,
"grid":true,"gridOpacity":{"condition":{"test":"abs(datum.value-round(datum.value))<0.01","value":1},"value":0},
"tickSize":{"condition":{"test":"abs(datum.value-round(datum.value))<0.01","value":-7},"value":-4}}},
"order":{"field":"E","type":"quantitative","sort":"descending"},
"color":{"field":"s","type":"nominal","scale":{"domain":["Spin up","Spin down"],"range":["#9400D3","#009E73"]},
"legend":{"orient":"none","legendX":226,"legendY":5,"title":null,"symbolType":"M-1.47,0H1.47","symbolSize":256,"symbolStrokeWidth":1.5,"labelAlign":"right","labelOffset":-36,"labelFontSize":17,"labelFont":"Liberation Sans","labelColor":"black","rowPadding":1,"padding":0,"labelLimit":0}}}},
{"transform":[{"filter":"datum.s=='Spin down'"}],
"mark":{"type":"line","clip":true,"strokeWidth":1.3},
"encoding":{
"x":{"field":"v","type":"quantitative","axis":{"orient":"top","title":"B","titleAngle":0,"titleX":-38,"titleY":9,"titleAlign":"left","titleBaseline":"alphabetic","titleFontSize":20,"titleFontWeight":"bold","labels":false,"grid":false,"values":[-10,-5,0,5,10],"tickSize":-7}},
"y":{"field":"E","type":"quantitative","axis":{"orient":"right","title":null,"labels":false,"grid":false,"values":[-4,-3.8,-3.6,-3.4,-3.2,-3,-2.8,-2.6,-2.4,-2.2,-2,-1.8,-1.6,-1.4,-1.2,-1,-0.8,-0.6,-0.4,-0.2,0,0.2,0.4,0.6,0.8,1,1.2,1.4,1.6,1.8,2,2.2,2.4,2.6,2.8,3,3.2,3.4,3.6,3.8,4],
"tickSize":{"condition":{"test":"abs(datum.value-round(datum.value))<0.01","value":-7},"value":-4}}},
"order":{"field":"E","type":"quantitative","sort":"descending"},
"color":{"field":"s","type":"nominal"}}}
]}
]}
